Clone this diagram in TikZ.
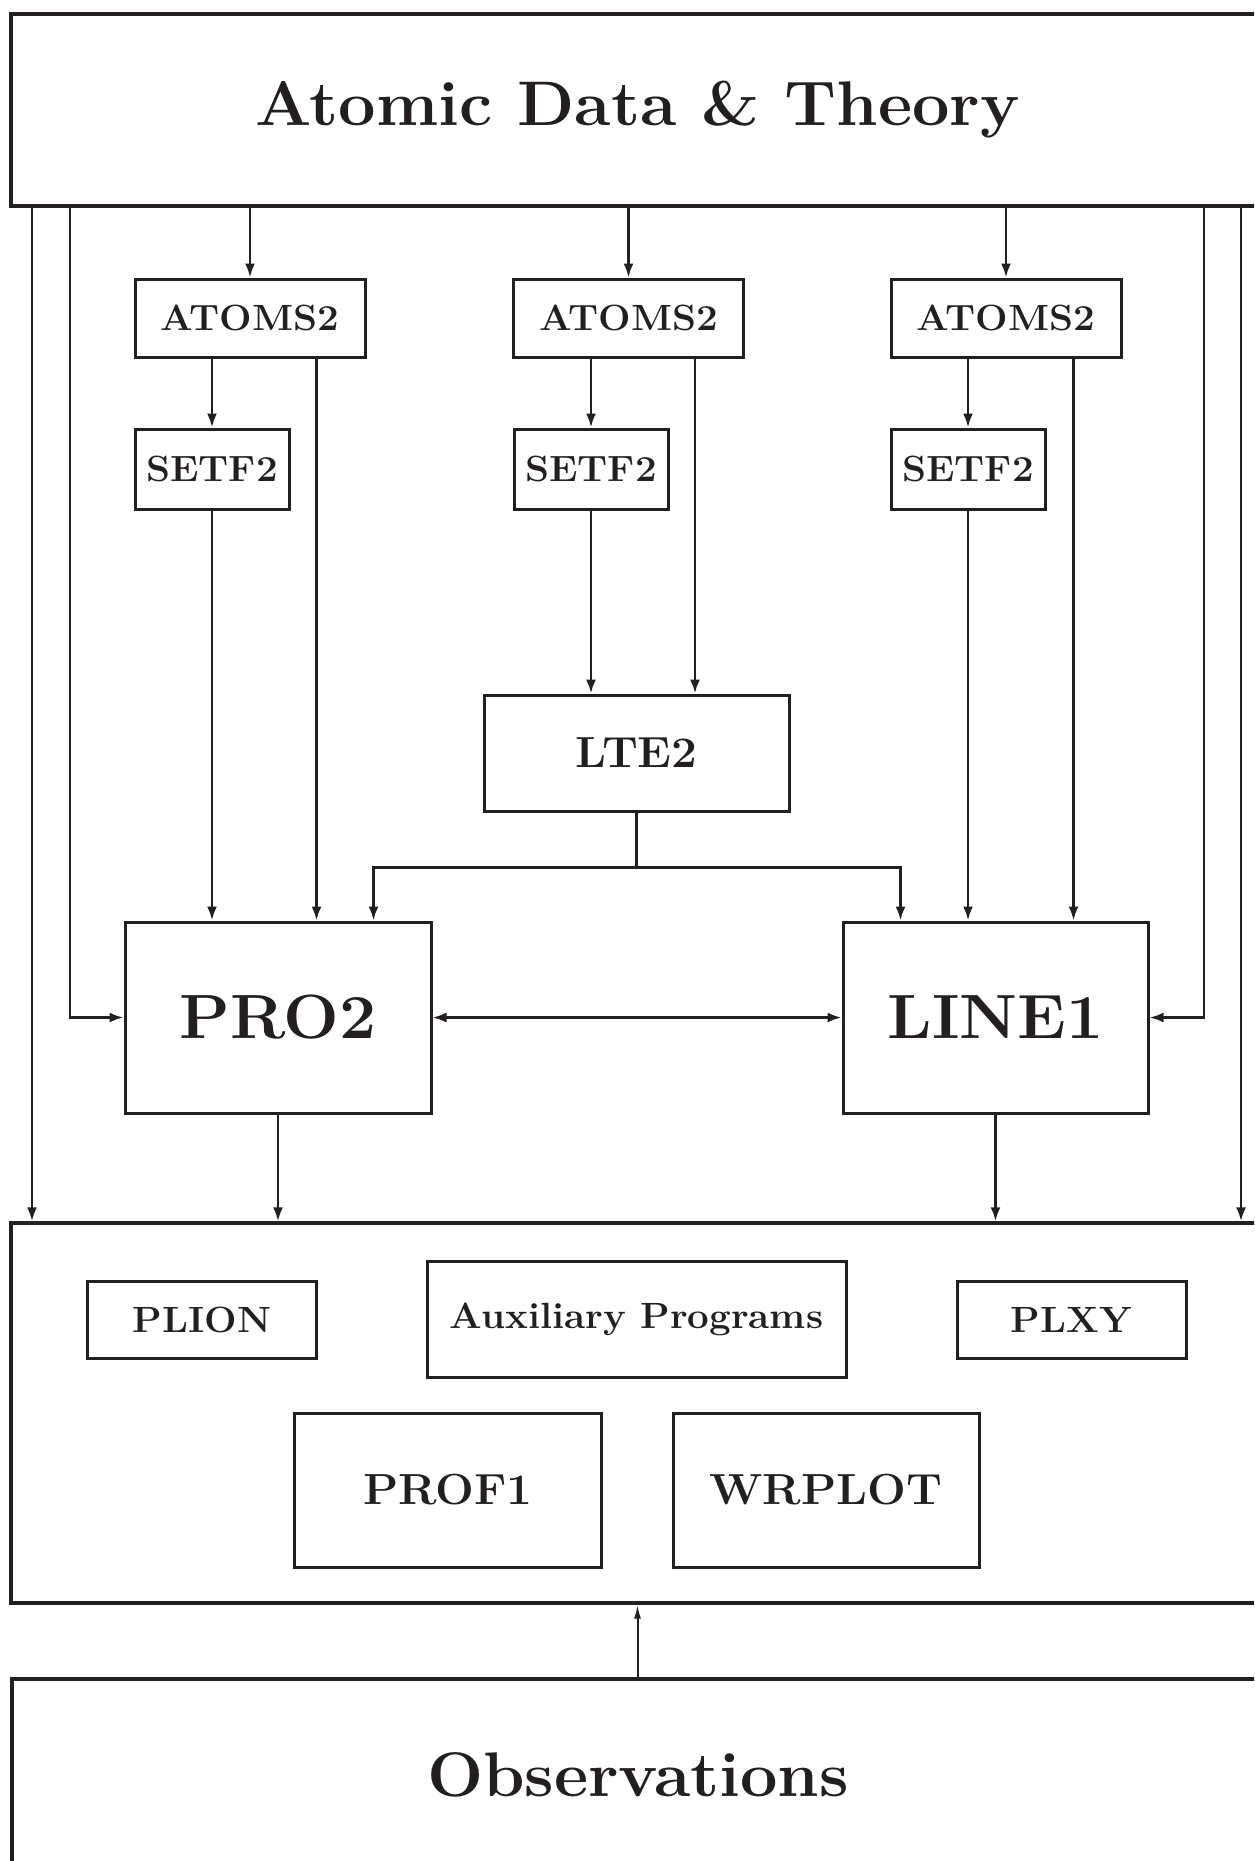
\documentclass[tikz,border=0pt]{standalone}
\usepackage{fontspec}
\usepackage{graphicx}
\usetikzlibrary{arrows.meta,calc}
\definecolor{ink}{RGB}{35,31,32}
\newcommand\stretchtxt[1]{\scalebox{1.055}[1]{#1}}
\newcommand\ftitle{\fontsize{63}{70}\selectfont\bfseries}
\newcommand\fbig{\fontsize{62.5}{70}\selectfont\bfseries}
\newcommand\fmid{\fontsize{43.5}{48}\selectfont\bfseries}
\newcommand\fsmall{\fontsize{36.5}{40}\selectfont\bfseries}
\begin{document}
\begin{tikzpicture}[x=1pt,y=-1pt,color=ink,
  frame/.style={draw=ink, line width=3.4pt, inner sep=0pt, text=ink},
  box/.style={draw=ink, line width=3pt, inner sep=0pt, text=ink},
  arr/.style={draw=ink, line width=2.5pt, -{Latex[length=14pt,width=10pt]}},
  arrthin/.style={draw=ink, line width=2pt, -{Latex[length=14pt,width=7pt]}},
  dbl/.style={draw=ink, line width=2.5pt, {Latex[length=14pt,width=10pt]}-{Latex[length=14pt,width=10pt]}},
  plain/.style={draw=ink, line width=2.5pt}]
\useasboundingbox (0,0) rectangle (1254,1861);
\clip (0,0) rectangle (1254,1861);

% frames
\node[frame, minimum width=1253pt, minimum height=192pt, font=\ftitle] (top) at (637.5,110) {\stretchtxt{Atomic Data \& Theory}};
\node[frame, minimum width=1253pt, minimum height=380pt] (aux) at (637.5,1413) {};
\node[frame, minimum width=1252pt, minimum height=192pt, font=\ftitle] (obs) at (638,1775) {\stretchtxt{Observations}};

% ATOMS2 / SETF2
\node[box, minimum width=230pt, minimum height=78pt, font=\fsmall] (a1) at (250,318) {\stretchtxt{ATOMS2}};
\node[box, minimum width=230pt, minimum height=78pt, font=\fsmall] (a2) at (628.5,318) {\stretchtxt{ATOMS2}};
\node[box, minimum width=230pt, minimum height=78pt, font=\fsmall] (a3) at (1006,318) {\stretchtxt{ATOMS2}};
\node[box, minimum width=154pt, minimum height=80pt, font=\fsmall] (s1) at (212,469) {\stretchtxt{SETF2}};
\node[box, minimum width=154pt, minimum height=80pt, font=\fsmall] (s2) at (591,469) {\stretchtxt{SETF2}};
\node[box, minimum width=154pt, minimum height=80pt, font=\fsmall] (s3) at (968,469) {\stretchtxt{SETF2}};

% LTE2, PRO2, LINE1
\node[box, minimum width=305pt, minimum height=116pt, font=\fmid] (lte) at (636.5,753) {\stretchtxt{LTE2}};
\node[box, minimum width=306pt, minimum height=191pt, font=\fbig] (pro) at (278,1017.5) {\stretchtxt{PRO2}};
\node[box, minimum width=305pt, minimum height=191pt, font=\fbig] (line) at (995.5,1017.5) {\stretchtxt{LINE1}};

% auxiliary programs
\node[box, minimum width=229pt, minimum height=77pt, font=\fsmall] (plion) at (202,1319.5) {\stretchtxt{PLION}};
\node[box, minimum width=419pt, minimum height=116pt, font=\fsmall] (auxp) at (636.5,1319) {\stretchtxt{Auxiliary Programs}};
\node[box, minimum width=229pt, minimum height=77pt, font=\fsmall] (plxy) at (1071.5,1319.5) {\stretchtxt{PLXY}};
\node[box, minimum width=307pt, minimum height=154pt, font=\fmid] (prof) at (448,1490) {\stretchtxt{PROF1}};
\node[box, minimum width=306pt, minimum height=154pt, font=\fmid] (wrp) at (826,1490) {\stretchtxt{WRPLOT}};

% side rails
\coordinate (L0) at (32,0);
\coordinate (L1) at (70,0);
\coordinate (R1) at (1204,0);
\coordinate (R0) at (1241,0);

% top -> ATOMS2
\foreach \a in {a1,a2,a3}{
  \draw[arr] (\a.north |- top.south) -- (\a.north);
}
% ATOMS2 -> SETF2
\draw[arr] (s1.north |- a1.south) -- (s1.north);
\draw[arr] (s2.north |- a2.south) -- (s2.north);
\draw[arr] (s3.north |- a3.south) -- (s3.north);

% left column into PRO2
\draw[arr] (s1.south) -- (s1.south |- pro.north);
\draw[arr] ($(a1.south east)+(-50,0)$) coordinate (t1) -- (t1 |- pro.north);
% middle column into LTE2
\draw[arr] (s2.south) -- (s2.south |- lte.north);
\draw[arr] ($(a2.south east)+(-50,0)$) coordinate (t2) -- (t2 |- lte.north);
% right column into LINE1
\draw[arr] (s3.south) -- (s3.south |- line.north);
\draw[arr] ($(a3.south east)+(-49,0)$) coordinate (t3) -- (t3 |- line.north);

% LTE2 bus
\draw[plain] (lte.south) -- ++(0,55) coordinate (bus);
\draw[arr] (bus) -| ($(pro.north east)+(-59,0)$);
\draw[arr] (bus) -| ($(line.north west)+(59,0)$);

% side rails
\draw[arr] (L1 |- top.south) -- (L1 |- pro.west) -- (pro.west);
\draw[arr] (L0 |- top.south) -- (L0 |- aux.north);
\draw[arr] (R1 |- top.south) -- (R1 |- line.east) -- (line.east);
\draw[arr] (R0 |- top.south) -- (R0 |- aux.north);

% PRO2 <-> LINE1
\draw[dbl] (pro.east) -- (line.west);

% outputs to auxiliary frame
\draw[arr] (pro.south) -- (pro.south |- aux.north);
\draw[arr] (line.south) -- (line.south |- aux.north);

% observations -> auxiliary frame
\draw[arrthin] (aux.south |- obs.north) -- (aux.south);
\end{tikzpicture}
\end{document}
